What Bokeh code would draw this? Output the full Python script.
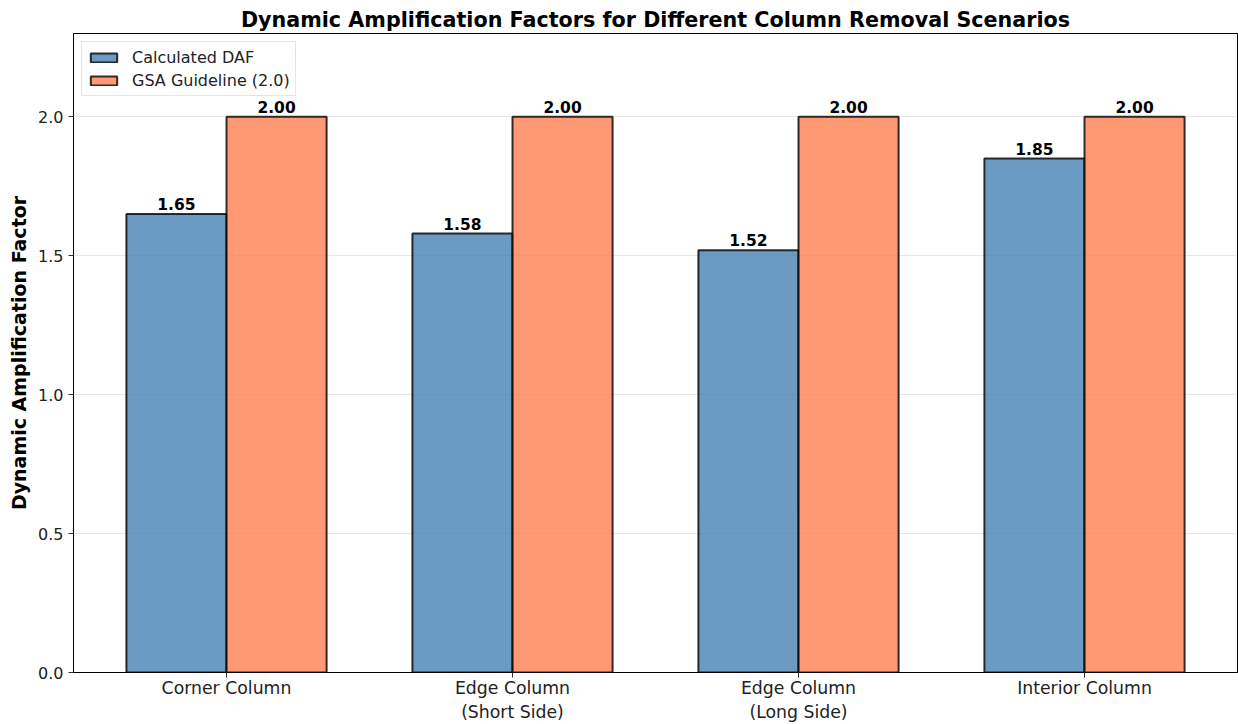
from bokeh.plotting import figure
from bokeh.models import ColumnDataSource, FixedTicker, Range1d, Legend, LegendItem
from bokeh.transform import dodge
from bokeh.core.properties import value
from bokeh.embed import file_html
from bokeh.resources import INLINE

categories = ["Corner Column", "Edge Column\n(Short Side)", "Edge Column\n(Long Side)", "Interior Column"]
calculated_daf = [1.65, 1.58, 1.52, 1.85]
gsa_guideline = [2.00, 2.00, 2.00, 2.00]
y_ticks = [0.0, 0.5, 1.0, 1.5, 2.0]
y_tick_labels = ["0.0", "0.5", "1.0", "1.5", "2.0"]

FONT = "DejaVu Sans"
positions = list(range(len(categories)))
src = ColumnDataSource(dict(
    x=positions,
    calc=calculated_daf,
    gsa=gsa_guideline,
    calc_txt=["%.2f" % v for v in calculated_daf],
    gsa_txt=["%.2f" % v for v in gsa_guideline],
))

p = figure(width=1238, height=724, output_backend="svg", toolbar_location=None,
           x_range=Range1d(-0.535, 3.535), y_range=Range1d(0, 2.3),
           min_border_left=73, min_border_right=1, min_border_top=33, min_border_bottom=52)

p.title.text = "Dynamic Amplification Factors for Different Column Removal Scenarios"
p.title.align = "center"
p.title.text_font = FONT
p.title.text_font_size = "20.7px"
p.title.text_font_style = "bold"
p.title.text_color = "black"
p.title.standoff = 4

w = 0.35
r1 = p.vbar(x=dodge("x", -w / 2, range=p.x_range), top="calc", width=w, source=src,
            fill_color="#4682B4", fill_alpha=0.8, line_color="black", line_alpha=0.8, line_width=2)
r2 = p.vbar(x=dodge("x", w / 2, range=p.x_range), top="gsa", width=w, source=src,
            fill_color="#FF7F50", fill_alpha=0.8, line_color="black", line_alpha=0.8, line_width=2)

for col, txt, off in (("calc", "calc_txt", -w / 2), ("gsa", "gsa_txt", w / 2)):
    p.text(x=dodge("x", off, range=p.x_range), y=col, text=txt, source=src,
           text_align="center", text_baseline="bottom", y_offset=-4, text_font=value(FONT),
           text_font_size="15.5px", text_font_style="bold", text_color="black")

# axes
p.xaxis.ticker = FixedTicker(ticks=positions)
p.xaxis.major_label_overrides = {i: c for i, c in zip(positions, categories)}
p.yaxis.ticker = FixedTicker(ticks=y_ticks)
p.yaxis.major_label_overrides = {t: l for t, l in zip(y_ticks, y_tick_labels)}
for ax in (p.xaxis[0], p.yaxis[0]):
    ax.major_label_text_font = FONT
    ax.major_label_text_color = "#222222"
    ax.major_tick_out = 5
    ax.major_tick_in = 0
    ax.minor_tick_line_color = None
    ax.axis_line_color = "black"
    ax.major_tick_line_color = "#333333"
p.xaxis.major_label_text_font_size = "17.3px"
p.yaxis.major_label_text_font_size = "16px"
p.xaxis.major_label_standoff = 0
p.yaxis.major_label_standoff = 5
p.yaxis.axis_label = "Dynamic Amplification Factor"
p.yaxis.axis_label_text_font = FONT
p.yaxis.axis_label_text_font_size = "19px"
p.yaxis.axis_label_text_font_style = "bold"
p.yaxis.axis_label_text_color = "black"
p.yaxis.axis_label_standoff = 5

p.xgrid.grid_line_color = None
p.ygrid.grid_line_color = "#b0b0b0"
p.ygrid.grid_line_alpha = 0.3
p.outline_line_color = "black"
p.outline_line_width = 1
p.outline_line_alpha = 1

legend = Legend(items=[LegendItem(label="Calculated DAF", renderers=[r1]),
                       LegendItem(label="GSA Guideline (2.0)", renderers=[r2])],
                location="top_left")
legend.margin = 8
legend.padding = 5
legend.spacing = 3
legend.glyph_width = 33
legend.glyph_height = 11
legend.label_height = 20
legend.label_standoff = 12
legend.label_text_font = FONT
legend.label_text_font_size = "16px"
legend.label_text_color = "#222222"
legend.border_line_color = "#cccccc"
legend.border_line_width = 1
legend.background_fill_alpha = 0.8
p.add_layout(legend, "center")

open("out.html", "w").write(file_html(p, INLINE))
